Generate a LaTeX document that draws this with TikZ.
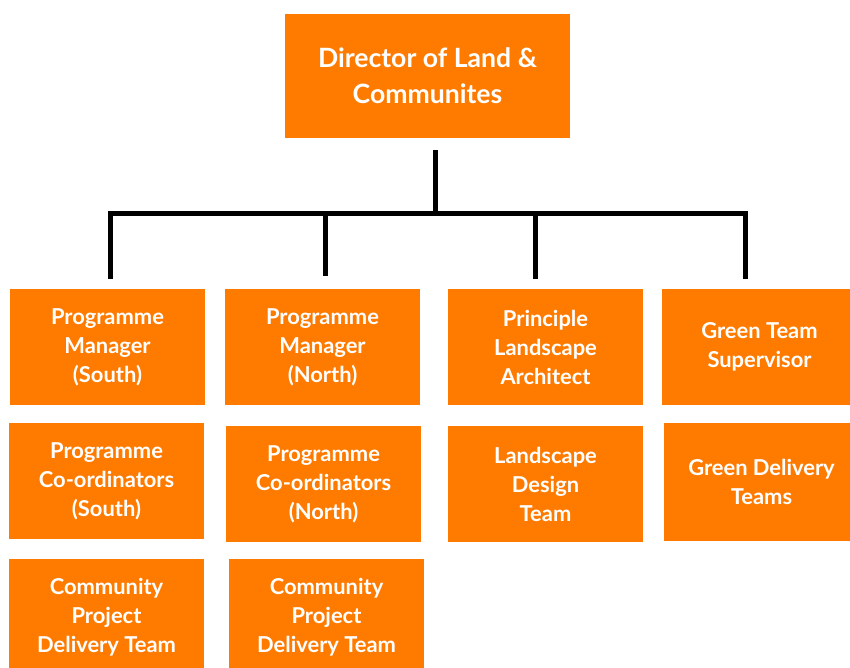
\documentclass[tikz,border=0pt]{standalone}
\usepackage{fontspec}
\setmainfont{Lato}
\usepackage{xcolor}
\usepackage{tikz}
\usetikzlibrary{positioning,calc}
\definecolor{roleorange}{HTML}{FF7B00}

\begin{document}
\begin{tikzpicture}[x=1pt,y=-1pt,
    role/.style={fill=roleorange, text=white, align=center, inner sep=0pt,
        minimum width=195pt, minimum height=116pt,
        font=\fontsize{21.9}{29}\selectfont\bfseries},
    head/.style={role, minimum width=285pt, minimum height=124pt,
        font=\fontsize{26.6}{36}\selectfont\bfseries},
    link/.style={draw=black, line width=5pt}]
    \clip (0,0) rectangle (850,667);
    \fill[white] (0,0) rectangle (850,667);

    \node[head] (dir) at (427.5,76) {Director of Land \&\\Communites};

    \node[role] (pms) at (107.5,347) {Programme\\Manager\\(South)};
    \node[role] (pmn) at (322.5,347) {Programme\\Manager\\(North)};
    \node[role] (pla) at (545.5,347) {Principle\\Landscape\\Architect};
    \node[role] (gts) at (759.5,347) {Green Team\\Supervisor};

    \node[role] (pcs) at (106.5,481) {Programme\\Co-ordinators\\(South)};
    \node[role] (pcn) at (323.5,484) {Programme\\Co-ordinators\\(North)};
    \node[role] (ldt) at (545.5,484) {Landscape\\Design\\Team};
    \node[role, minimum height=118pt] (gdt) at (761.5,482) {Green Delivery\\Teams};

    \node[role] (cps) at (106.5,617) {Community\\Project\\Delivery Team};
    \node[role] (cpn) at (326.5,617) {Community\\Project\\Delivery Team};

    \coordinate (hub) at (435,213);
    \draw[link] ([yshift=-12pt]dir.south -| hub) -- (hub);
    \draw[link] ([xshift=2.5pt,yshift=10pt]pms.north) |- (hub) -| ([xshift=-14.5pt,yshift=10pt]gts.north);
    \draw[link] ([xshift=2.5pt,yshift=13pt]pmn.north) -- ([xshift=2.5pt]pmn.north |- hub);
    \draw[link] ([xshift=-10.5pt,yshift=10pt]pla.north) -- ([xshift=-10.5pt]pla.north |- hub);
\end{tikzpicture}
\end{document}
